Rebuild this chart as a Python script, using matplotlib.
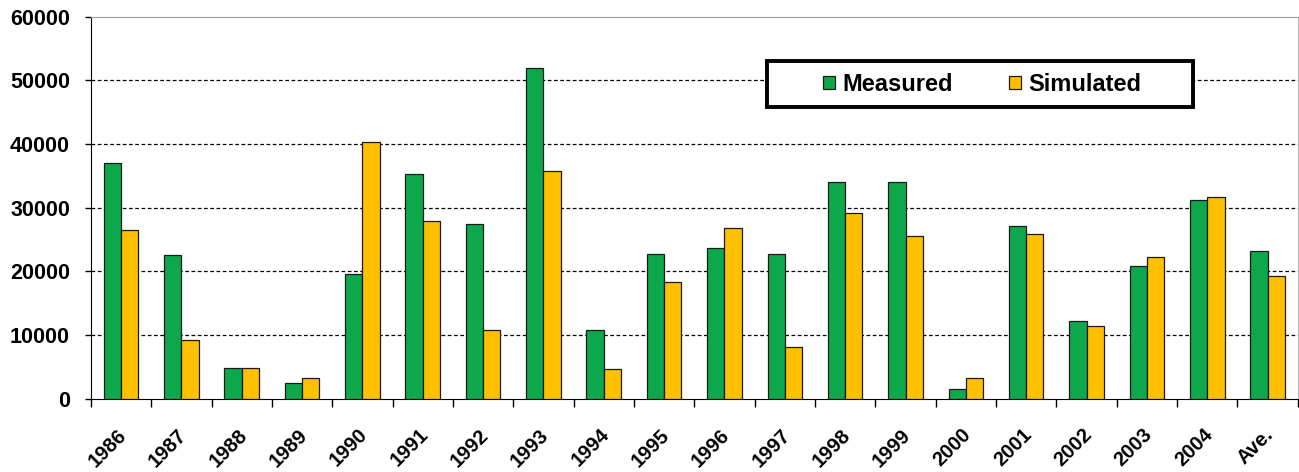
import numpy as np
import matplotlib
matplotlib.use('Agg')
import matplotlib.pyplot as plt
from matplotlib.patches import Rectangle

# data
years = ['1986', '1987', '1988', '1989', '1990', '1991', '1992', '1993', '1994', '1995',
         '1996', '1997', '1998', '1999', '2000', '2001', '2002', '2003', '2004', 'Ave.']
measured = [37000, 22600, 4900, 2500, 19600, 35300, 27500, 51900, 10800, 22800,
            23600, 22800, 34000, 34000, 1500, 27200, 12200, 20900, 31200, 23200]
simulated = [26500, 9300, 4900, 3200, 40300, 27900, 10800, 35700, 4700, 18400,
             26800, 8200, 29100, 25500, 3300, 25900, 11400, 22200, 31600, 19200]

plt.rcParams['font.family'] = ['Liberation Sans', 'DejaVu Sans']

fig = plt.figure(figsize=(12.99, 4.72), dpi=100)
ax = fig.add_axes([0.070, 0.155, 0.929, 0.810])

x = np.arange(len(years))
w = 0.287
ax.bar(x - w / 2, measured, w, color='#0DA84B', edgecolor='#1a1a1a', linewidth=0.9,
       label='Measured', zorder=3)
ax.bar(x + w / 2, simulated, w, color='#FFC000', edgecolor='#1a1a1a', linewidth=0.9,
       label='Simulated', zorder=3)

ax.set_xlim(-0.5, len(years) - 0.5)
ax.set_ylim(0, 60000)
ax.set_yticks(range(0, 60001, 10000))
ax.tick_params(axis='y', labelsize=15.5, length=4, width=1, direction='out', pad=11)
for lbl in ax.get_yticklabels():
    lbl.set_fontweight('bold')

# category labels, tick marks on the boundaries
ax.set_xticks(x - 0.07)
ax.set_xticklabels(years, rotation=45, ha='right', rotation_mode='anchor',
                   fontsize=14.5, fontweight='bold')
ax.tick_params(axis='x', length=0, pad=19)
ax.set_xticks(np.arange(-0.5, len(years)), minor=True)
ax.tick_params(axis='x', which='minor', length=6, width=1, direction='out')

# dashed grid lines
for yv in range(10000, 60000, 10000):
    ax.axhline(yv, color='black', linestyle=(0, (3, 2)), linewidth=0.9, zorder=1)

ax.spines['left'].set_color('black')
ax.spines['bottom'].set_color('black')
ax.spines['top'].set_color('#999999')
ax.spines['right'].set_color('#bbbbbb')

# wide legend box drawn separately
box = Rectangle((0.560, 0.764), 0.353, 0.120, transform=ax.transAxes,
                facecolor='white', edgecolor='black', linewidth=2.8, zorder=4)
ax.add_patch(box)
leg = ax.legend(loc='center', bbox_to_anchor=(0.7386, 0.822), ncol=2, frameon=False,
                prop={'weight': 'bold', 'size': 17},
                handlelength=0.5, handleheight=0.5, handletextpad=0.3,
                columnspacing=2.4, borderpad=0)
leg.set_zorder(5)

fig.savefig('out.png', dpi=100)
